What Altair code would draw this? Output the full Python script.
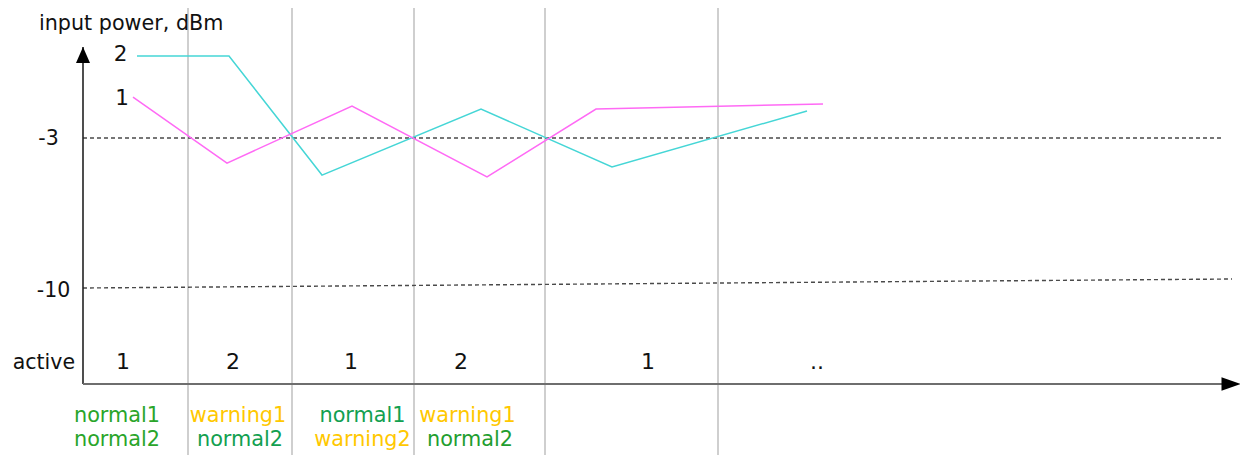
import altair as alt
import pandas as pd

# ---- data (time in arbitrary units, power in dBm) ----
cyan_t = [5.4, 14.6, 23.9, 39.8, 52.9, 72.4]
cyan_p = [0.83, 0.83, -4.73, -1.65, -4.35, -1.74]
mag_t = [5.0, 14.4, 26.9, 40.4, 51.3, 74.0]
mag_p = [-1.09, -4.17, -1.51, -4.82, -1.65, -1.41]

switch_t = [10.5, 20.9, 33.1, 46.2, 63.5]

thr3_t = [0.0, 113.8]
thr3_p = [-3.0, -3.0]
thr10_t = [0.0, 114.9]
thr10_p = [-10.0, -9.58]

ytick_labels = ["-3", "-10"]
ytick_t = [-3.45, -2.95]
ytick_p = [-3.33, -10.42]

line_labels = ["2", "1"]
line_label_t = [3.75, 3.9]
line_label_p = [0.6, -1.45]

active_labels = ["1", "2", "1", "2", "1", ".."]
active_t = [4.0, 15.0, 26.8, 37.8, 56.5, 73.4]
active_p = -13.8

status1 = ["normal1", "warning1", "normal1", "warning1"]
status1_col = ["#2aa52a", "#ffc800", "#12a050", "#ffc800"]
status1_t = [3.4, 15.5, 27.95, 38.45]
status1_p = -16.25
status2 = ["normal2", "normal2", "warning2", "normal2"]
status2_col = ["#2aa52a", "#12a050", "#ffc800", "#1f9e30"]
status2_t = [3.4, 15.7, 27.95, 38.7]
status2_p = -17.37

# ---- scales ----
W, H = 1232, 447
xs = alt.Scale(domain=[-7.5, 115.7], nice=False, zero=False)
ys = alt.Scale(domain=[-17.793, 3.0667], nice=False, zero=False)
FONT = "DejaVu Sans"


def X(f="t"):
    return alt.X(f"{f}:Q", scale=xs, axis=None)


def Y(f="p"):
    return alt.Y(f"{f}:Q", scale=ys, axis=None)


lines_df = pd.DataFrame(
    {"t": cyan_t + mag_t, "p": cyan_p + mag_p,
     "ch": ["2"] * len(cyan_t) + ["1"] * len(mag_t)}
)
lines = alt.Chart(lines_df).mark_line(strokeWidth=1.5).encode(
    x=X(), y=Y(), detail="ch:N",
    color=alt.Color("ch:N", scale=alt.Scale(domain=["1", "2"], range=["#ff6af5", "#45d6d6"]), legend=None),
)

grid = alt.Chart(pd.DataFrame({"t": switch_t})).mark_rule(color="#cfcfcf", strokeWidth=2).encode(x=X())

thr_df = pd.DataFrame({"t": thr3_t + thr10_t, "p": thr3_p + thr10_p, "g": ["a", "a", "b", "b"]})
thr = alt.Chart(thr_df).mark_line(color="#4a4a4a", strokeWidth=1.4, strokeDash=[4, 3]).encode(
    x=X(), y=Y(), detail="g:N"
)

axes_df = pd.DataFrame({"t": [0.0, 0.0], "p": [1.25, -14.48], "t2": [0.0, 114.0], "p2": [-14.48, -14.48]})
yaxis = alt.Chart(axes_df.iloc[[0]]).mark_rule(color="#222222", strokeWidth=1.6).encode(
    x=X(), y=Y(), y2="p2:Q"
)
xaxis = alt.Chart(axes_df.iloc[[1]]).mark_rule(color="#6e6e6e", strokeWidth=2.2).encode(
    x=X(), x2="t2:Q", y=Y()
)

up_head = alt.Chart(pd.DataFrame({"t": [0.0], "p": [0.873]})).mark_point(
    shape="M0,-1L0.875,1L-0.875,1Z", size=256, filled=True, color="black", opacity=1, strokeWidth=0
).encode(x=X(), y=Y())
right_head = alt.Chart(pd.DataFrame({"t": [114.8], "p": [-14.48]})).mark_point(
    shape="M1,0L-1,-0.72L-1,0.72Z", size=361, filled=True, color="black", opacity=1, strokeWidth=0
).encode(x=X(), y=Y())

title = alt.Chart(pd.DataFrame({"t": [-4.4], "p": [2.04], "s": ["input power, dBm"]})).mark_text(
    font=FONT, fontSize=20.7, align="left", baseline="alphabetic", color="#111111"
).encode(x=X(), y=Y(), text="s:N")

yticks = alt.Chart(pd.DataFrame({"t": ytick_t, "p": ytick_p, "s": ytick_labels})).mark_text(
    font=FONT, fontSize=20.5, align="center", baseline="alphabetic", color="#111111"
).encode(x=X(), y=Y(), text="s:N")

llabels = alt.Chart(pd.DataFrame({"t": line_label_t, "p": line_label_p, "s": line_labels})).mark_text(
    font=FONT, fontSize=21.5, align="center", baseline="alphabetic", color="#111111"
).encode(x=X(), y=Y(), text="s:N")

active_lbl = alt.Chart(pd.DataFrame({"t": [-0.8], "p": [active_p], "s": ["active"]})).mark_text(
    font=FONT, fontSize=20.5, align="right", baseline="alphabetic", color="#111111"
).encode(x=X(), y=Y(), text="s:N")

active_vals = alt.Chart(pd.DataFrame({"t": active_t, "p": [active_p] * len(active_t), "s": active_labels})).mark_text(
    font=FONT, fontSize=22, align="center", baseline="alphabetic", color="#111111"
).encode(x=X(), y=Y(), text="s:N")

st_df = pd.DataFrame({
    "t": status1_t + status2_t,
    "p": [status1_p] * 4 + [status2_p] * 4,
    "s": status1 + status2,
    "c": status1_col + status2_col,
})
status = alt.Chart(st_df).mark_text(
    font=FONT, fontSize=20.8, align="center", baseline="alphabetic"
).encode(x=X(), y=Y(), text="s:N", color=alt.Color("c:N", scale=None))

chart = alt.layer(
    grid, thr, lines, yaxis, xaxis, up_head, right_head,
    title, yticks, llabels, active_lbl, active_vals, status,
).properties(
    width=W, height=H, autosize=alt.AutoSizeParams(type="none"), padding=0
).configure_view(stroke=None).resolve_scale(color="independent")

chart.save("out.html", embed_options={"renderer": "svg", "actions": False})
